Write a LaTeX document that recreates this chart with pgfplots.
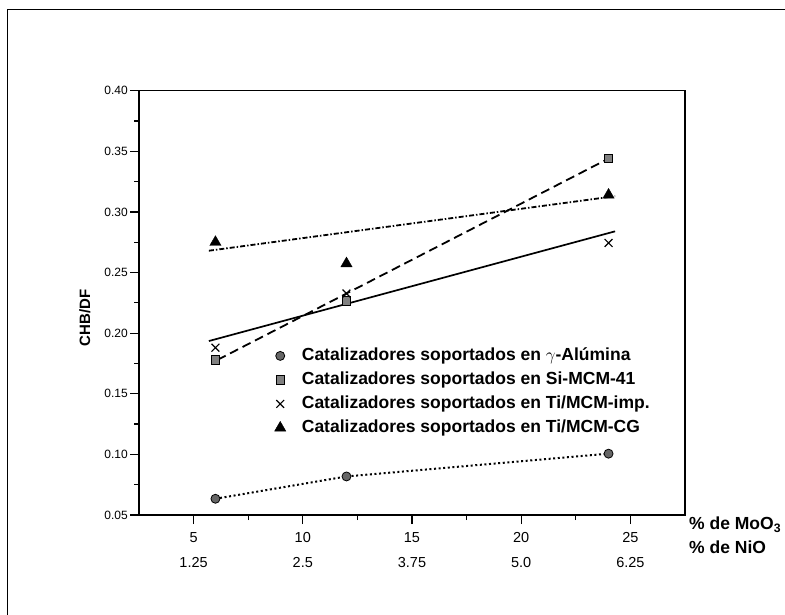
\documentclass[border=0pt]{standalone}
\usepackage{fontspec}
\setmainfont{Liberation Sans}
\usepackage{pgfplots}
\pgfplotsset{compat=1.18}
\begin{document}
\begin{tikzpicture}[x=1pt,y=1pt]
\useasboundingbox (0,0) rectangle (785,614);
\draw[line width=1.1pt] (7.3,-20) -- (7.3,604.7) -- (800,604.7);
\begin{axis}[
  at={(139pt,99pt)}, anchor=south west,
  scale only axis, width=546pt, height=424.3pt,
  xmin=2.5, xmax=27.5, ymin=0.05, ymax=0.40,
  axis line style={line width=1.4pt},
  tick align=outside, xtick pos=left, ytick pos=left,
  major tick length=9pt, minor tick length=5pt,
  every tick/.style={line width=1.2pt, black},
  xtick={5,10,15,20,25},
  xticklabels={{5\\1.25},{10\\2.5},{15\\3.75},{20\\5.0},{25\\6.25}},
  xticklabel style={align=center, font=\fontsize{14.5}{25}\selectfont, inner sep=2pt, yshift=-6pt},
  minor x tick num=1,
  ytick={0.05,0.10,0.15,0.20,0.25,0.30,0.35,0.40},
  yticklabels={0.05,0.10,0.15,0.20,0.25,0.30,0.35,0.40},
  yticklabel style={font=\fontsize{12}{14}\selectfont, inner sep=2pt},
  minor y tick num=1,
  ylabel={CHB/DF},
  ylabel style={at={(axis description cs:-0.099,0.464)}, anchor=center, font=\fontsize{15}{18}\selectfont\bfseries},
  clip=false,
  legend cell align=left,
  legend style={at={(axis description cs:0.248,0.399)}, anchor=north west, draw=none, fill=none,
    font=\fontsize{17.5}{21}\selectfont\bfseries, row sep=4pt, inner sep=0pt,
    nodes={inner sep=2pt, text height=12.5pt, text depth=3.5pt},
    /tikz/every odd column/.append style={column sep=14pt}},
]
% fitted / connecting lines
\addplot[forget plot, black, line width=2pt, dash pattern=on 2pt off 2.6pt] coordinates {(6,0.0634) (12,0.0818) (24,0.1006)};
\addplot[forget plot, black, line width=1.8pt, dash pattern=on 9pt off 5pt] coordinates {(6.1,0.178) (24,0.344)};
\addplot[forget plot, black, line width=1.7pt] coordinates {(5.7,0.1935) (24.3,0.284)};
\addplot[forget plot, black, line width=1.8pt, dash pattern=on 5pt off 2pt on 1.5pt off 2pt] coordinates {(5.7,0.268) (24.3,0.313)};
% data points
\addplot[only marks, mark=*, mark size=4.5pt, mark options={fill=black!60, draw=black, line width=0.8pt}] coordinates {(6,0.0634) (12,0.0818) (24,0.1006)};
\addlegendentry{Catalizadores soportados en $\gamma$-Alúmina}
\addplot[only marks, mark=square*, mark size=4.2pt, mark options={fill=black!50, draw=black, line width=0.8pt}] coordinates {(6,0.178) (12,0.2266) (24,0.344)};
\addlegendentry{Catalizadores soportados en Si-MCM-41}
\addplot[only marks, mark=x, mark size=5.5pt, mark options={draw=black, line width=1.2pt}] coordinates {(6,0.188) (12,0.2327) (24,0.2744)};
\addlegendentry{Catalizadores soportados en Ti/MCM-imp.}
\addplot[only marks, mark=triangle*, mark size=6.5pt, mark options={fill=black, draw=black}] coordinates {(6,0.275) (12,0.2574) (24,0.314)};
\addlegendentry{Catalizadores soportados en Ti/MCM-CG}
\node[anchor=west, inner sep=0pt, font=\fontsize{17.5}{21}\selectfont\bfseries] at (axis description cs:1.0073,-0.0236) {\% de MoO\textsubscript{3}};
\node[anchor=west, inner sep=0pt, font=\fontsize{17.5}{21}\selectfont\bfseries] at (axis description cs:1.0073,-0.0754) {\% de NiO};
\end{axis}
\end{tikzpicture}
\end{document}
